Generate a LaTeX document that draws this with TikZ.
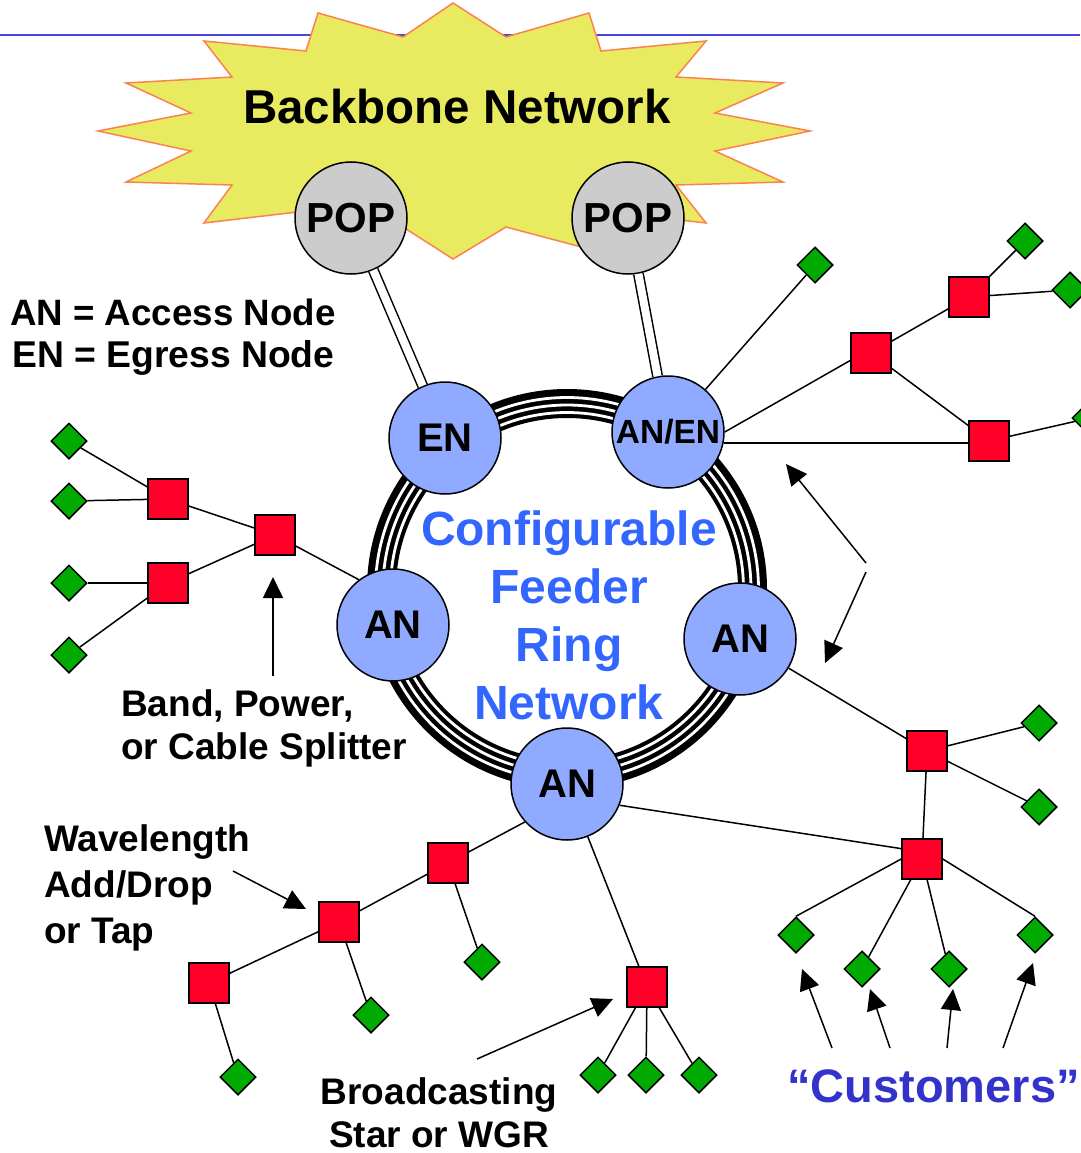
\documentclass[tikz,border=0pt]{standalone}
\usepackage{fontspec}
\setmainfont{Liberation Sans}
\usetikzlibrary{shapes.geometric,arrows.meta,calc}
\definecolor{nodeblue}{RGB}{143,170,255}
\definecolor{popgray}{RGB}{204,204,204}
\definecolor{sqred}{RGB}{255,0,41}
\definecolor{dgreen}{RGB}{0,170,0}
\definecolor{ringblue}{RGB}{51,102,255}
\definecolor{custblue}{RGB}{51,51,204}
\definecolor{topline}{RGB}{70,70,220}
\definecolor{staryellow}{RGB}{232,235,95}
\definecolor{starorange}{RGB}{250,130,80}
\newcommand\myfs[1]{\fontsize{#1}{#1}\selectfont}
\begin{document}
\begin{tikzpicture}[x=1pt,y=-1pt,
  ringnode/.style={circle,draw,line width=1.5pt,fill=nodeblue,minimum size=112pt,inner sep=0pt,font=\bfseries\myfs{40}},
  popnode/.style={ringnode,fill=popgray,font=\bfseries\myfs{42}},
  sqnode/.style={rectangle,draw,line width=1.5pt,fill=sqred,minimum size=40pt,inner sep=0pt},
  dianode/.style={diamond,draw,line width=1.5pt,fill=dgreen,minimum width=36pt,minimum height=36pt,inner sep=0pt,aspect=1},
  link/.style={line width=1.5pt},
  ptr/.style={line width=1.5pt,-{Triangle[length=21pt,width=20pt]}},
  lbl/.style={inner sep=0pt,font=\bfseries\myfs{37},text height=26.5pt,text depth=0pt},
]
\fill[white] (0,0) rectangle (1080,1153);
\useasboundingbox (0,0) rectangle (1080,1153);

% top rule
\draw[topline,line width=2pt] (0,35) -- (1080,35);

% backbone starburst
\draw[fill=staryellow,draw=starorange,line width=1.5pt,line join=miter]
 (453,3) -- (506,37) -- (589,13) -- (601,51) -- (706,41) -- (676,77) -- (783,83) -- (715,113)
 -- (810,131) -- (715,151) -- (783,182) -- (676,185) -- (706,223) -- (601,211) -- (589,249)
 -- (506,227) -- (453,259) -- (403,227) -- (318,249) -- (306,211) -- (204,223) -- (232,185)
 -- (126,182) -- (191,151) -- (98,131) -- (191,113) -- (126,83) -- (232,77) -- (204,41)
 -- (306,51) -- (318,13) -- (403,37) -- cycle;
\node[lbl,font=\bfseries\myfs{47.5},text height=34pt] (bbtext) at (457,107) {Backbone Network};

% feeder ring
\coordinate (rc) at (567,589);
\draw[line width=29pt] (rc) circle[radius=185.5pt];
\draw[white,line width=2.8pt] (rc) circle[radius=191.5pt];
\draw[white,line width=2.8pt] (rc) circle[radius=184pt];
\draw[white,line width=2.8pt] (rc) circle[radius=176.5pt];

\node[lbl,font=\bfseries\myfs{48},text height=34.4pt,text=ringblue] (rt1) at (569,528) {Configurable};
\node[lbl,font=\bfseries\myfs{48},text height=34.4pt,text=ringblue] (rt2) at (569,586) {Feeder};
\node[lbl,font=\bfseries\myfs{48},text height=34.4pt,text=ringblue] (rt3) at (569,644) {Ring};
\node[lbl,font=\bfseries\myfs{48},text height=34.4pt,text=ringblue] (rt4) at (569,702) {Network};

% POPs and ring nodes
\node[popnode] (POP1) at (351,218) {POP};
\node[popnode] (POP2) at (628,218) {POP};
\node[ringnode] (EN) at (445,438) {EN};
\node[ringnode,font=\bfseries\myfs{33.5}] (ANEN) at (668,432) {AN/EN};
\node[ringnode] (ANL) at (393,625) {AN};
\node[ringnode] (ANR) at (740,639) {AN};
\node[ringnode] (ANB) at (567,784) {AN};

\draw[line width=1.5pt,double,double distance=8pt] (POP1) -- (EN);
\draw[line width=1.5pt,double,double distance=8pt] (POP2) -- (ANEN);

% left tree
\node[dianode] (dL1) at (69,441) {};
\node[dianode] (dL2) at (69,501) {};
\node[dianode] (dL3) at (69,583) {};
\node[dianode] (dL4) at (69,655) {};
\node[sqnode] (sL1) at (168,499) {};
\node[sqnode] (sL2) at (168,583) {};
\node[sqnode] (sL3) at (275,535) {};
\draw[link] (dL1) -- (sL1);
\draw[link] (dL2) -- (sL1);
\draw[link] (dL3) -- (sL2);
\draw[link] (dL4) -- (sL2);
\draw[link] (sL1) -- (sL3);
\draw[link] (sL2) -- (sL3);
\draw[link] (ANL.127) -- (sL3);

% top right tree
\node[dianode] (dR0) at (815,265) {};
\node[sqnode] (sR1) at (871,353) {};
\node[sqnode] (sR2) at (969,297) {};
\node[sqnode] (sR3) at (989,441) {};
\node[dianode] (dR1) at (1025,241) {};
\node[dianode] (dR2) at (1070,290) {};
\node[dianode] (dR3) at (1090,418) {};
\draw[link] (ANEN) -- (dR0);
\draw[link] (ANEN.east) -- ($(sR1.north west)!0.68!(sR1.south west)$);
\draw[link] (ANEN.-11) -- (ANEN.-11 -| sR3.west);
\draw[link] (sR1) -- (sR2);
\draw[link] (sR1) -- (sR3);
\draw[link] (sR2) -- (dR1);
\draw[link] (sR2) -- (dR2);
\draw[link] (sR3) -- (dR3);

% right middle tree and customers
\node[sqnode] (sM1) at (927,751) {};
\node[dianode] (dM1) at (1039,723) {};
\node[dianode] (dM2) at (1039,807) {};
\node[sqnode] (sM2) at (922,859) {};
\node[dianode] (dC1) at (796,935) {};
\node[dianode] (dC2) at (862,969) {};
\node[dianode] (dC3) at (949,969) {};
\node[dianode] (dC4) at (1035,935) {};
\draw[link] (ANR) -- (sM1);
\draw[link] (sM1) -- (dM1);
\draw[link] (sM1) -- (dM2);
\draw[link] (sM1) -- (sM2);
\draw[link] (ANB.-22) -- ($(sM2.north west)!0.25!(sM2.south west)$);
\draw[link] (sM2.west) -- (dC1.north);
\draw[link] (sM2) -- (dC2);
\draw[link] (sM2) -- (dC3);
\draw[link] (sM2.east) -- (dC4.north);

% bottom left tree
\node[sqnode] (sB1) at (448,863) {};
\node[sqnode] (sB2) at (339,922) {};
\node[sqnode] (sB3) at (209,983) {};
\node[dianode] (dB1) at (482,962) {};
\node[dianode] (dB2) at (371,1015) {};
\node[dianode] (dB3) at (238,1077) {};
\draw[link] (ANB.222) -- (sB1);
\draw[link] (sB1) -- (sB2);
\draw[link] (sB2) -- (sB3);
\draw[link] (sB1) -- (dB1);
\draw[link] (sB2) -- (dB2);
\draw[link] (sB3) -- (dB3);

% broadcasting star
\node[sqnode] (sS) at (647,987) {};
\node[dianode] (dS1) at (598,1075) {};
\node[dianode] (dS2) at (646,1075) {};
\node[dianode] (dS3) at (699,1075) {};
\draw[link] (ANB) -- (sS);
\draw[link] (sS) -- (dS1);
\draw[link] (sS) -- (dS2);
\draw[link] (sS) -- (dS3);

% labels
\node[lbl,anchor=west,font=\bfseries\myfs{36.7}] (aneq) at (10,312) {AN = Access Node};
\node[lbl,anchor=west,font=\bfseries\myfs{37.3}] (eneq) at (12,354.5) {EN = Egress Node};
\node[lbl,anchor=west] (band1) at (121,703) {Band, Power,};
\node[lbl,anchor=west] (band2) at (121,746) {or Cable Splitter};
\node[lbl,anchor=west] (wav1) at (44,838) {Wavelength};
\node[lbl,anchor=west] (wav2) at (44,884) {Add/Drop};
\node[lbl,anchor=west] (wav3) at (44,930) {or Tap};
\node[lbl] (bc1) at (439,1091) {Broadcasting};
\node[lbl] (bc2) at (439,1134) {Star or WGR};
\node[lbl,anchor=west,font=\bfseries\myfs{47},text height=33.7pt,text=custblue] (cust) at (787,1086) {“Customers”};

% pointers
\coordinate (pa0) at (273,676); \coordinate (pa1) at (273,577);
\draw[ptr] (pa0) -- (pa1);
\coordinate (pw0) at (233,871); \coordinate (pw1) at (306,909);
\draw[ptr] (pw0) -- (pw1);
\coordinate (pb0) at (477,1059); \coordinate (pb1) at (613,999);
\draw[ptr] (pb0) -- (pb1);
\coordinate (dj1) at (866,563); \coordinate (dt1) at (786,464);
\coordinate (dj2) at (866,572); \coordinate (dt2) at (825,663);
\draw[ptr] (dj1) -- (dt1);
\draw[ptr] (dj2) -- (dt2);
\coordinate (pc1) at (832,1048); \coordinate (tc1) at (802,969);
\coordinate (pc2) at (890,1048); \coordinate (tc2) at (870,989);
\coordinate (pc3) at (947,1048); \coordinate (tc3) at (953,989);
\coordinate (pc4) at (1003,1048); \coordinate (tc4) at (1033,963);
\draw[ptr] (pc1) -- (tc1);
\draw[ptr] (pc2) -- (tc2);
\draw[ptr] (pc3) -- (tc3);
\draw[ptr] (pc4) -- (tc4);
\end{tikzpicture}
\end{document}
